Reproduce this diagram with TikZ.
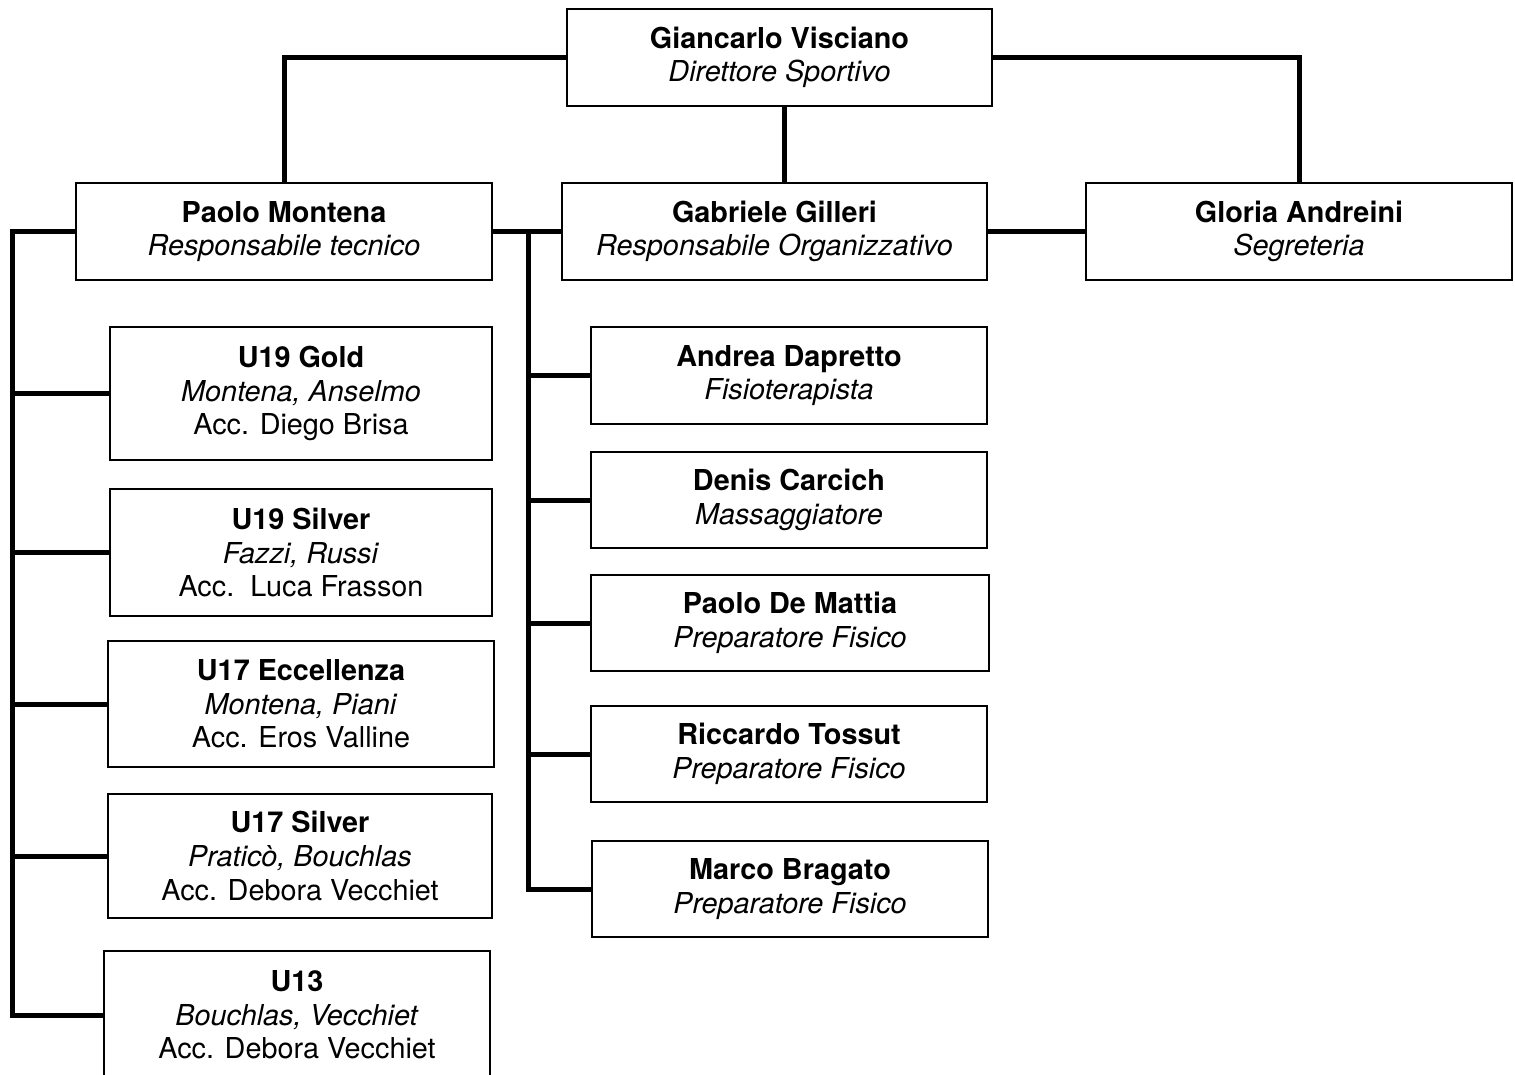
\documentclass[tikz,border=0pt]{standalone}
\usepackage{fontspec}
\setmainfont{TeX Gyre Heros}
\usetikzlibrary{calc}

\begin{document}
\begin{tikzpicture}[x=0.5pt,y=-0.5pt,
	box/.style 2 args={draw,line width=1.1pt,align=center,inner sep=0pt,
		minimum width=#1*0.5pt,minimum height=#2*0.5pt,
		font=\fontsize{14.4}{16.8}\selectfont},
	link/.style={line width=2.5pt}]
	\useasboundingbox (0,0) rectangle (1515,1075);
	% vertice
	\node[box={425}{97}] (gv) at (779.5,57.5) {\textbf{Giancarlo Visciano}\\\textit{Direttore Sportivo}};
	\node[box={416}{97}] (pm) at (284,231.5) {\textbf{Paolo Montena}\\\textit{Responsabile tecnico}};
	\node[box={425}{97}] (gg) at (774.5,231.5) {\textbf{Gabriele Gilleri}\\\textit{Responsabile Organizzativo}};
	\node[box={426}{97}] (ga) at (1299,231.5) {\textbf{Gloria Andreini}\\\textit{Segreteria}};
	% squadre
	\node[box={382}{133}] (t1) at (301,393.5) {\textbf{U19 Gold}\\\textit{Montena, Anselmo}\\Acc. Diego Brisa};
	\node[box={382}{127}] (t2) at (301,552.5) {\textbf{U19 Silver}\\\textit{Fazzi, Russi}\\Acc.\ \ Luca Frasson};
	\node[box={386}{126}] (t3) at (301,704) {\textbf{U17 Eccellenza}\\\textit{Montena, Piani}\\Acc. Eros Valline};
	\node[box={384}{124}] (t4) at (300,856) {\textbf{U17 Silver}\\\textit{Praticò, Bouchlas}\\Acc. Debora Vecchiet};
	\node[box={386}{128}] (t5) at (297,1015) {\textbf{U13}\\\textit{Bouchlas, Vecchiet}\\Acc. Debora Vecchiet};
	% staff
	\node[box={396}{97}] (s1) at (789,375.5) {\textbf{Andrea Dapretto}\\\textit{Fisioterapista}};
	\node[box={396}{96}] (s2) at (789,500) {\textbf{Denis Carcich}\\\textit{Massaggiatore}};
	\node[box={398}{96}] (s3) at (790,623) {\textbf{Paolo De Mattia}\\\textit{Preparatore Fisico}};
	\node[box={396}{96}] (s4) at (789,754) {\textbf{Riccardo Tossut}\\\textit{Preparatore Fisico}};
	\node[box={396}{96}] (s5) at (790,889) {\textbf{Marco Bragato}\\\textit{Preparatore Fisico}};
	% collegamenti
	\coordinate (bs) at (12,0);
	\coordinate (bd) at (528,0);
	\coordinate (mid) at (784,0);
	\draw[link] (gv.west) -| (pm.north) (gv.east) -| (ga.north) (gv.south -| mid)--(gg.north -| mid) (gg.east)--(ga.west) (pm.east)--(gg.west);
	\draw[link] (pm.west)--(pm.west -| bs) |- (t5.west);
	\draw[link] (pm.east -| bd) |- (s5.west);
	\foreach \x in {t1,t2,t3,t4} \draw[link] (\x.west -| bs)--(\x.west);
	\foreach \x in {s1,s2,s3,s4} \draw[link] (\x.west -| bd)--(\x.west);
\end{tikzpicture}
\end{document}
